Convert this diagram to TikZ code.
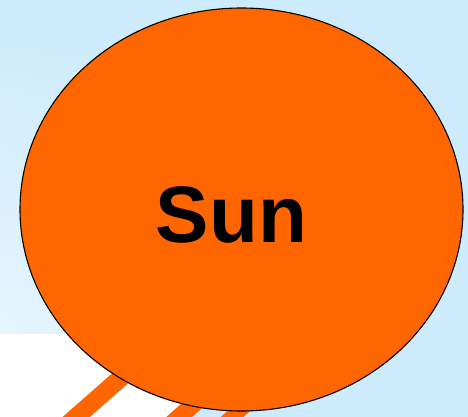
\documentclass[tikz,border=0pt]{standalone}
\usepackage{fontspec}
\setmainfont{Liberation Sans}
\usetikzlibrary{shapes.geometric,shadings}
\definecolor{bgblue}{HTML}{CCEBFC}
\definecolor{bglight}{HTML}{E6F5FE}
\definecolor{sunorange}{HTML}{FF6600}
\tikzset{
  sunshape/.style={ellipse, draw=black, line width=1.1pt, fill=sunorange,
    minimum width=443pt, minimum height=403pt, inner sep=0pt},
  sunray/.style={draw=sunorange, line width=18pt},
  sunlabel/.style={font=\fontsize{80}{96}\selectfont\bfseries, text=black, inner sep=0pt}
}
\begin{document}
\begin{tikzpicture}[x=1pt,y=-1pt]
\useasboundingbox (0,0) rectangle (468,417);
\clip (0,0) rectangle (468,417);
% background
\fill[bgblue] (0,0) rectangle (468,417);
\shade[upper left=bgblue, upper right=bgblue, lower right=bgblue, lower left=bglight] (0,0) rectangle (468,334);
\fill[white] (0,334) rectangle (188,417);
% rays
\coordinate (r1a) at (141,360);
\coordinate (r1b) at (50,440);
\coordinate (r2a) at (221,380);
\coordinate (r2b) at (153,440);
\coordinate (r3a) at (274,380);
\coordinate (r3b) at (206,440);
\draw[sunray] (r1a) -- (r1b);
\draw[sunray, line width=17pt] (r2a) -- (r2b);
\draw[sunray, line width=15pt] (r3a) -- (r3b);
% sun
\node[sunshape] (sun) at (241.5,209.5) {};
\node[sunlabel, anchor=base] (sunlabel) at (231.5,242) {Sun};
\end{tikzpicture}
\end{document}
